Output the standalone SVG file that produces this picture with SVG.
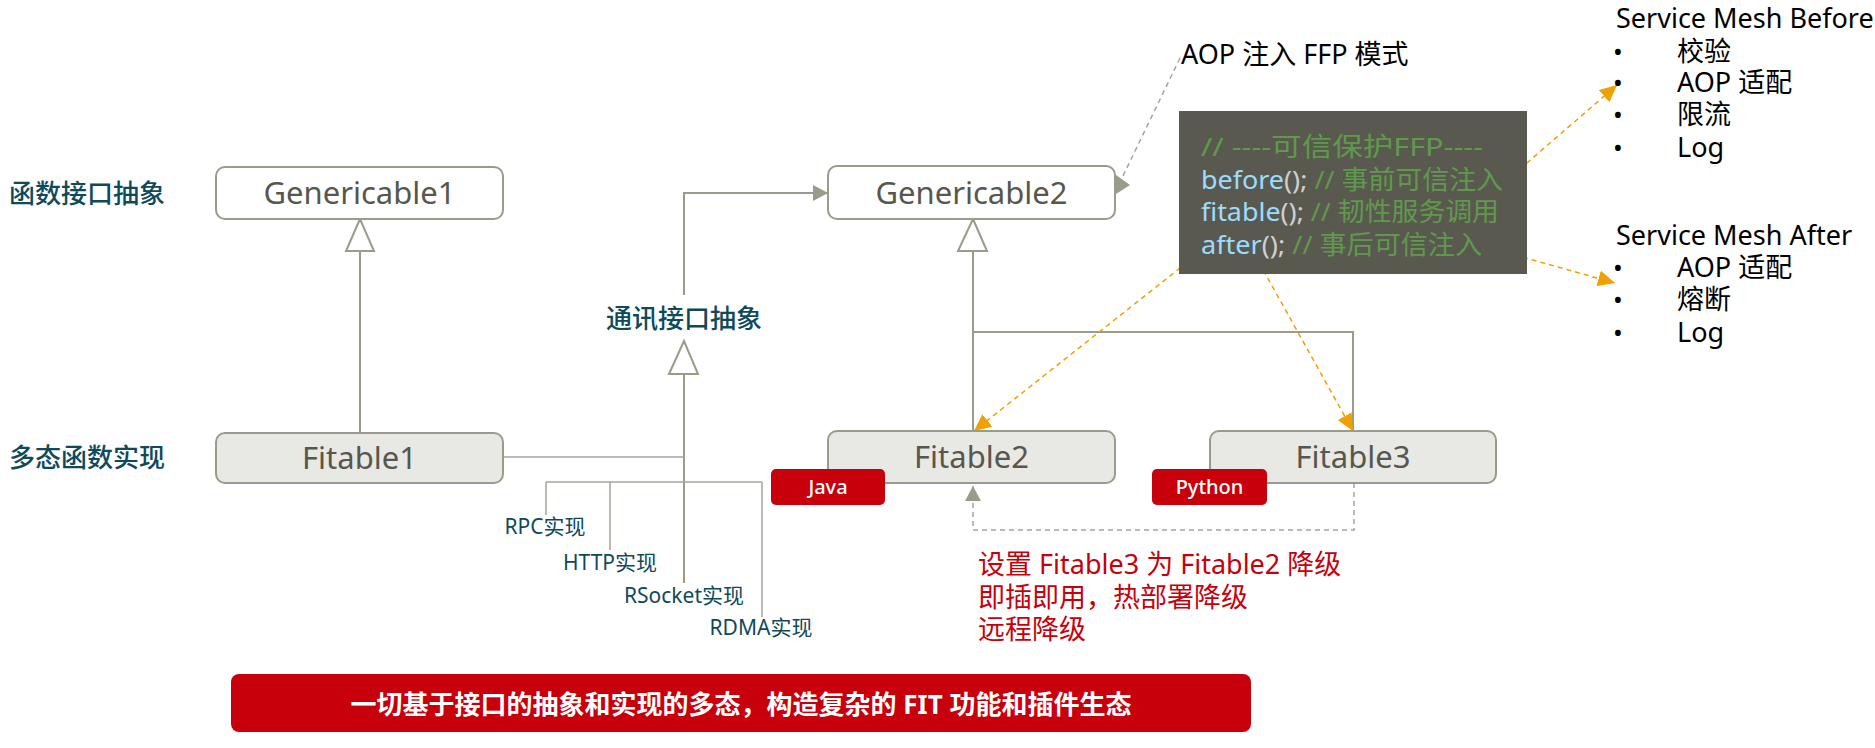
<svg xmlns="http://www.w3.org/2000/svg" width="1875" height="748" viewBox="0 0 1875 748">
<defs>
<style>
text{font-family:"Noto Sans","Noto Sans CJK SC",sans-serif;}
.box{stroke:#9b9b8c;stroke-width:2;}
.gen{fill:#ffffff;}
.fit{fill:#e8e8e5;}
.name{font-size:31px;fill:#57574d;text-anchor:middle;}
.badge{fill:#c7000b;}
.btxt{font-size:20px;fill:#ffffff;text-anchor:middle;font-weight:500;}
.lvl{font-size:26px;fill:#0f4a5b;font-weight:500;}
.impl{font-size:21px;fill:#0f4a5b;text-anchor:middle;}
.ln{stroke:#9b9b8c;stroke-width:2;fill:none;}
.thin{stroke:#a5a59a;stroke-width:1.5;fill:none;}
.tri{fill:#ffffff;stroke:#9b9b8c;stroke-width:2;}
.dash{stroke:#a5a59a;stroke-width:1.5;fill:none;stroke-dasharray:5 4;}
.org{stroke:#f0a000;stroke-width:1.5;fill:none;stroke-dasharray:5 4;}
.blk{font-size:26px;fill:#000000;}
.hd{font-size:27px;fill:#000000;}
.red{font-size:27px;fill:#c7000b;}
.code{font-size:26px;}
.cm{fill:#5f9a4c;}
.fn{fill:#9cdcfe;}
.pn{fill:#cfcfcf;}
</style>
<marker id="ga" markerUnits="userSpaceOnUse" markerWidth="16" markerHeight="16" refX="15" refY="8" orient="auto">
<path d="M0,0 L15,8 L0,16 z" fill="#9b9b8c"/>
</marker>
<marker id="oa" markerUnits="userSpaceOnUse" markerWidth="18" markerHeight="16" refX="17" refY="8" orient="auto">
<path d="M0,0 L17,8 L0,16 z" fill="#f0a000"/>
</marker>
</defs>
<rect width="1875" height="748" fill="#ffffff"/>

<!-- level labels -->
<text class="lvl" x="9" y="203">函数接口抽象</text>
<text class="lvl" x="9" y="467">多态函数实现</text>

<!-- connectors -->
<g id="connectors">
<line class="ln" x1="360" y1="251" x2="360" y2="433"/>
<polygon class="tri" points="360,219 346,251 374,251"/>
<line class="ln" x1="684" y1="374" x2="684" y2="583"/>
<polygon class="tri" points="684,341 669,374 698,374"/>
<line class="thin" x1="503" y1="457" x2="684" y2="457"/>
<line class="thin" x1="546" y1="482" x2="762" y2="482"/>
<line class="thin" x1="546" y1="482" x2="546" y2="515"/>
<line class="thin" x1="610" y1="482" x2="610" y2="550"/>
<line class="thin" x1="762" y1="482" x2="762" y2="617"/>
<path class="ln" d="M684,295 V193 H828" marker-end="url(#ga)"/>
<line class="ln" x1="973" y1="251" x2="973" y2="431"/>
<polygon class="tri" points="973,219 958,251 987,251"/>
<path class="ln" d="M973,332 H1353 V431"/>
<path class="dash" d="M1354,483 V530 H973 V486" marker-end="url(#ga)"/>
<line class="dash" x1="1180" y1="58" x2="1122" y2="178"/>
<polygon points="1116,175 1130,185 1116,194" fill="#9b9b8c"/>
<line class="org" x1="1513" y1="175" x2="1617" y2="85" marker-end="url(#oa)"/>
<line class="org" x1="1497" y1="250" x2="1615" y2="283" marker-end="url(#oa)"/>
<line class="org" x1="1237" y1="223" x2="974" y2="431" marker-end="url(#oa)"/>
<line class="org" x1="1237" y1="223" x2="1353" y2="431" marker-end="url(#oa)"/>
</g>

<g id="genericable1">
<rect class="box gen" x="216" y="167" width="287" height="52" rx="9"/>
<text class="name" x="359.5" y="204">Genericable1</text>
</g>
<g id="fitable1">
<rect class="box fit" x="216" y="433" width="287" height="50" rx="9"/>
<text class="name" x="359.5" y="469">Fitable1</text>
</g>
<g id="comm">
<text class="lvl" x="684" y="328" text-anchor="middle">通讯接口抽象</text>
</g>
<g id="impls">
<text class="impl" x="545" y="534">RPC实现</text>
<text class="impl" x="610" y="570">HTTP实现</text>
<text class="impl" x="684" y="603">RSocket实现</text>
<text class="impl" x="761" y="635">RDMA实现</text>
</g>
<g id="genericable2">
<rect class="box gen" x="828" y="166" width="287" height="53" rx="9"/>
<text class="name" x="971.5" y="204">Genericable2</text>
</g>
<g id="fitable2">
<rect class="box fit" x="828" y="431" width="287" height="52" rx="9"/>
<text class="name" x="971.5" y="468">Fitable2</text>
</g>
<g id="java">
<rect class="badge" x="771" y="469" width="114" height="36" rx="5"/>
<text class="btxt" x="828" y="494">Java</text>
</g>
<g id="fitable3">
<rect class="box fit" x="1210" y="431" width="286" height="52" rx="9"/>
<text class="name" x="1353" y="468">Fitable3</text>
</g>
<g id="python">
<rect class="badge" x="1152" y="469" width="115" height="36" rx="5"/>
<text class="btxt" x="1209.5" y="494">Python</text>
</g>

<g id="aop-label">
<text class="hd" x="1181" y="64">AOP 注入 FFP 模式</text>
</g>

<g id="code">
<rect x="1179" y="111" width="348" height="163" fill="#5a5950"/>
<text class="code" x="1201" y="156" textLength="282" lengthAdjust="spacingAndGlyphs"><tspan class="cm">// ----可信保护FFP----</tspan></text>
<text class="code" x="1201" y="189" textLength="302" lengthAdjust="spacingAndGlyphs"><tspan class="fn">before</tspan><tspan class="pn">();</tspan><tspan class="cm"> // 事前可信注入</tspan></text>
<text class="code" x="1201" y="221" textLength="298" lengthAdjust="spacingAndGlyphs"><tspan class="fn">fitable</tspan><tspan class="pn">();</tspan><tspan class="cm"> // 韧性服务调用</tspan></text>
<text class="code" x="1201" y="254" textLength="281" lengthAdjust="spacingAndGlyphs"><tspan class="fn">after</tspan><tspan class="pn">();</tspan><tspan class="cm"> // 事后可信注入</tspan></text>
</g>

<g id="mesh-before">
<text class="hd" x="1616" y="28">Service Mesh Before</text>
<text class="blk" x="1613" y="61">•</text><text class="hd" x="1677" y="61">校验</text>
<text class="blk" x="1613" y="92">•</text><text class="hd" x="1677" y="92">AOP 适配</text>
<text class="blk" x="1613" y="124">•</text><text class="hd" x="1677" y="124">限流</text>
<text class="blk" x="1613" y="157">•</text><text class="hd" x="1677" y="157">Log</text>
</g>
<g id="mesh-after">
<text class="hd" x="1616" y="245">Service Mesh After</text>
<text class="blk" x="1613" y="277">•</text><text class="hd" x="1677" y="277">AOP 适配</text>
<text class="blk" x="1613" y="309">•</text><text class="hd" x="1677" y="309">熔断</text>
<text class="blk" x="1613" y="342">•</text><text class="hd" x="1677" y="342">Log</text>
</g>

<g id="degrade-note">
<text class="red" x="978" y="574">设置 Fitable3 为 Fitable2 降级</text>
<text class="red" x="978" y="607">即插即用，热部署降级</text>
<text class="red" x="978" y="639">远程降级</text>
</g>

<g id="banner">
<rect x="231" y="674" width="1020" height="58" rx="8" fill="#c7000b"/>
<text x="741" y="714" font-size="26" fill="#ffffff" font-weight="bold" text-anchor="middle">一切基于接口的抽象和实现的多态，构造复杂的 FIT 功能和插件生态</text>
</g>
</svg>
